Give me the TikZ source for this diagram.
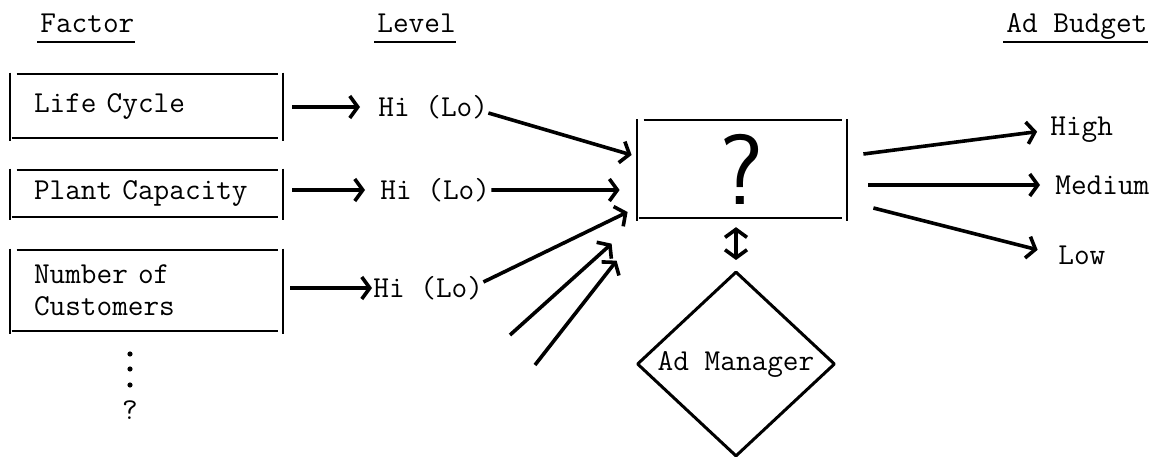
\documentclass[tikz,border=0pt]{standalone}
\usepackage{fontspec}
\usetikzlibrary{arrows.meta,shapes.geometric}
\tikzset{
  boxline/.style={line width=1bp},
  arrowline/.style={line width=1.8bp,->},
  head/.style={anchor=base west,inner sep=0pt},
  factor/.style={inner xsep=12bp,text width=112.5bp,minimum width=136.5bp,align=left},
  level/.style={anchor=west,inner sep=0pt},
}
% box with open corners, as typed
\newcommand\gapbox[1]{%
  \draw [boxline] ([yshift=0.5bp]#1.north west) -- ([yshift=-1.5bp]#1.south west);
  \draw [boxline] ([yshift=0.5bp]#1.north east) -- ([yshift=-1.5bp]#1.south east);
  \draw [boxline] ([xshift=3.5bp]#1.north west) -- ([xshift=-2.5bp]#1.north east);
  \draw [boxline] ([xshift=1bp]#1.south west) -- ([xshift=-2.5bp]#1.south east);
}
\newcommand\headline[1]{%
  \draw [boxline] ([xshift=-1.5bp,yshift=-4.5bp]#1.base west) -- ([yshift=-4.5bp]#1.base east);
}
\begin{document}
\begin{tikzpicture}[>={Straight Barb[length=4bp,width=11bp]},line join=bevel,
  font=\fontsize{15.2bp}{16bp}\selectfont\ttfamily]
\useasboundingbox (0bp,0bp) rectangle (578bp,229.5bp);
%%
\node (head_factor) at (20bp,213bp) [head] {Factor};
\node (head_level) at (188.5bp,213bp) [head] {Level};
\node (head_budget) at (503bp,213bp) [head] {Ad Budget};
\headline{head_factor}
\headline{head_level}
\headline{head_budget}
%%
\node (factor_life) at (73.25bp,176.5bp) [factor,minimum height=32bp] {Life Cycle};
\node (factor_plant) at (73.25bp,132.75bp) [factor,minimum height=23.5bp] {Plant Capacity};
\node (factor_cust) at (73.25bp,84.25bp) [factor,minimum height=40.5bp] {Number of\\Customers};
\gapbox{factor_life}
\gapbox{factor_plant}
\gapbox{factor_cust}
\foreach \y in {52.5bp,45bp,37bp} \fill (65bp,\y) circle (1.3bp);
\node (factor_more) at (65bp,24.5bp) {?};
%%
\node (level_life) at (189bp,176bp) [level] {Hi (Lo)};
\node (level_plant) at (190bp,134.5bp) [level] {Hi (Lo)};
\node (level_cust) at (186.5bp,85.5bp) [level] {Hi (Lo)};
\draw [arrowline,shorten <=4.5bp,shorten >=9bp] (factor_life.east |- level_life.west) -- (level_life.west);
\draw [arrowline,shorten <=4.5bp,shorten >=7.5bp] (factor_plant.east |- level_plant.west) -- (level_plant.west);
\draw [arrowline,shorten <=3.5bp,shorten >=0.5bp] (factor_cust.east |- level_cust.west) -- (level_cust.west);
%%
\node (decide) at (371bp,145bp) [minimum width=105bp,minimum height=48.25bp,
  font=\fontsize{50bp}{50bp}\selectfont\sffamily] {?};
\gapbox{decide}
\draw [arrowline] ([yshift=-3bp]level_life.east) -- ([xshift=-2.5bp,yshift=7bp]decide.west);
\draw [arrowline,shorten <=0.5bp] (level_plant.east) -- ([xshift=-8.5bp,yshift=-10.5bp]decide.west);
\draw [arrowline] ([yshift=3bp]level_cust.east) -- ([xshift=-4.5bp,yshift=-21.5bp]decide.west);
\coordinate (more_a) at (255bp,62bp);
\coordinate (more_b) at (267.5bp,47bp);
\draw [arrowline] (more_a) -- ([xshift=-12.5bp,yshift=-13bp]decide.south west);
\draw [arrowline] (more_b) -- ([xshift=-10bp,yshift=-21.5bp]decide.south west);
%%
\node (manager) at (368bp,47.5bp) [diamond,draw,line width=1.5bp,aspect=1.07,
  minimum width=99bp,minimum height=92.5bp,inner sep=0pt] {Ad Manager};
\draw [arrowline,<->,shorten <=4.75bp,shorten >=5bp] (manager.north |- decide.south) -- (manager.north);
%%
\node (budget_high) at (525bp,164.5bp) [level] {High};
\node (budget_med) at (527.5bp,137bp) [level] {Medium};
\node (budget_low) at (529bp,102bp) [level] {Low};
\draw [arrowline,shorten >=6.5bp] ([xshift=8bp,yshift=7.5bp]decide.east) -- (budget_high.west);
\draw [arrowline,shorten >=7.5bp] ([xshift=10.5bp,yshift=-8bp]decide.east) -- (budget_med.west);
\draw [arrowline,shorten >=10.5bp] ([xshift=13bp,yshift=-19.5bp]decide.east) -- (budget_low.west);
%
\end{tikzpicture}
\end{document}
